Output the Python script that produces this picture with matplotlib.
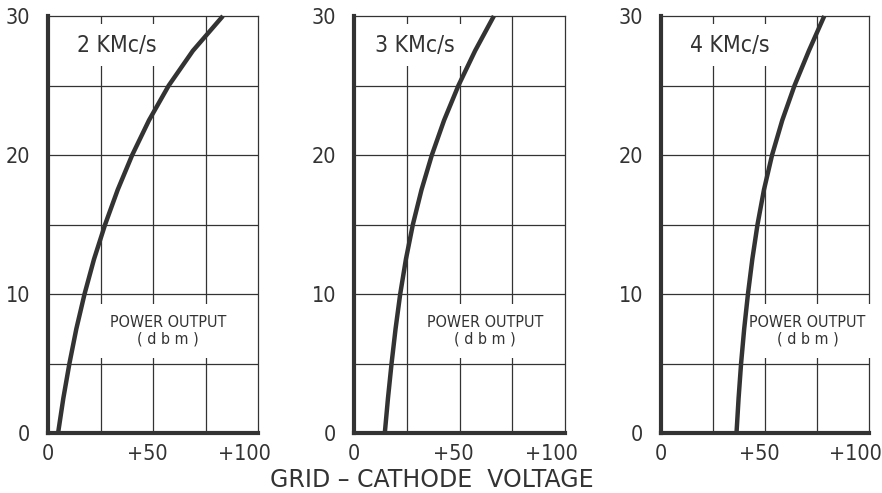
import matplotlib
matplotlib.use("Agg")
import matplotlib.pyplot as plt
from matplotlib.transforms import ScaledTranslation

# power output (dbm) vs grid-cathode voltage
power_dbm = [0, 2.5, 5, 7.5, 10, 12.5, 15, 17.5, 20, 22.5, 25, 27.5, 30]
volts_2kmc = [4.8, 7.3, 10.2, 13.5, 17.4, 21.9, 27.2, 33.2, 40.1, 48.1, 57.5, 69.0, 83.3]
volts_3kmc = [14.6, 16.1, 17.8, 19.7, 21.9, 24.6, 27.9, 32.0, 36.9, 42.7, 49.5, 57.4, 66.3]
volts_4kmc = [36.3, 37.3, 38.5, 40.0, 41.8, 43.9, 46.4, 49.5, 53.4, 58.3, 64.2, 71.1, 78.5]

freq_labels = ["2 KMc/s", "3 KMc/s", "4 KMc/s"]
x_ticks = [0, 50, 100]
x_ticklabels = ["0", "+50", "+100"]
y_ticks = [0, 10, 20, 30]

ink = "#333333"
plt.rcParams['font.family'] = ['DejaVu Sans']
plt.rcParams['font.stretch'] = 'condensed'

fig = plt.figure(figsize=(8.82, 4.93), dpi=100)
lefts = [48, 354, 661]
widths = [210, 211, 208]
curves = [volts_2kmc, volts_3kmc, volts_4kmc]
freq_x = [0.33, 0.29, 0.33]
note_x = [0.57, 0.62, 0.705]
shifts = [0, -6, -14]

for left, w, volts, lab, fx, nx in zip(lefts, widths, curves, freq_labels, freq_x, note_x):
    ax = fig.add_axes([left / 882, 60 / 493, w / 882, 417 / 493])
    ax.set_xlim(0, 100)
    ax.set_ylim(0, 30)
    # grid every 25 V and 5 dbm
    for gx in [25, 50, 75]:
        ax.axvline(gx, color=ink, lw=0.9, zorder=1)
    for gy in [5, 10, 15, 20, 25]:
        ax.axhline(gy, color=ink, lw=0.9, zorder=1)
    ax.plot(volts, power_dbm, color=ink, lw=3.2, zorder=5,
            solid_joinstyle='round', solid_capstyle='butt', clip_on=False)

    for side in ['top', 'right']:
        ax.spines[side].set_linewidth(0.9)
        ax.spines[side].set_color(ink)
    for side in ['left', 'bottom']:
        ax.spines[side].set_linewidth(3)
        ax.spines[side].set_color(ink)

    ax.set_xticks(x_ticks)
    ax.set_xticklabels(x_ticklabels)
    ax.set_yticks(y_ticks)
    ax.tick_params(length=0, labelsize=15.5, colors=ink, pad=8)
    ax.tick_params(axis='y', pad=13)
    for t, dx in zip(ax.get_xticklabels(), shifts):
        t.set_transform(t.get_transform() + ScaledTranslation(dx / 100, 0, fig.dpi_scale_trans))

    ax.text(fx, 0.93, lab, transform=ax.transAxes, fontsize=16.5, color=ink,
            ha='center', va='center', zorder=4,
            bbox=dict(facecolor='white', edgecolor='none', pad=7))
    ax.text(nx, 0.245, "POWER OUTPUT\n( d b m )", transform=ax.transAxes,
            fontsize=11.5, color=ink, ha='center',
            va='center', zorder=4, linespacing=1.1,
            bbox=dict(facecolor='white', edgecolor='none', pad=8))

fig.text(432 / 882, 1 - 480 / 493, "GRID – CATHODE  VOLTAGE", fontsize=17,
         fontstretch='normal', color=ink, ha='center', va='center')

fig.savefig("out.png", dpi=100)
